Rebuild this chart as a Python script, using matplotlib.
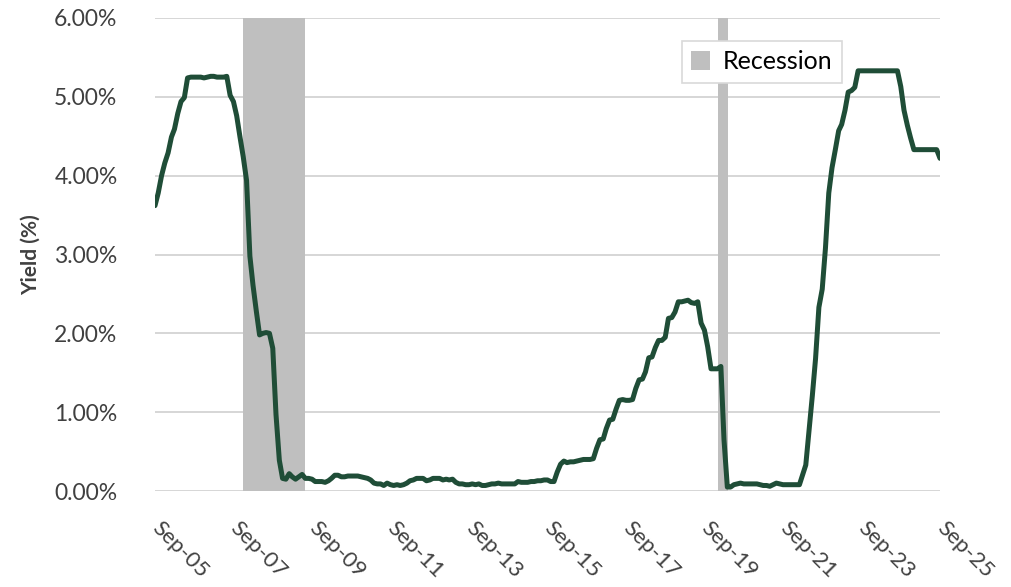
import matplotlib.pyplot as plt
import matplotlib.dates as mdates
import matplotlib.transforms as mtransforms
from matplotlib.patches import Patch
from matplotlib.ticker import FuncFormatter
import pandas as pd

# monthly yield (%), Sep 2005 .. Sep 2025
yield_2005 = [3.62, 3.78, 4.00, 4.16]
yield_2006 = [4.29, 4.49, 4.59, 4.79, 4.94, 4.99, 5.24, 5.25, 5.25, 5.25, 5.25, 5.24]
yield_2007 = [5.25, 5.26, 5.26, 5.25, 5.25, 5.25, 5.26, 5.02, 4.94, 4.76, 4.49, 4.24]
yield_2008 = [3.94, 2.98, 2.61, 2.28, 1.98, 2.00, 2.01, 2.00, 1.81, 0.97, 0.39, 0.16]
yield_2009 = [0.15, 0.22, 0.18, 0.15, 0.18, 0.21, 0.16, 0.16, 0.15, 0.12, 0.12, 0.12]
yield_2010 = [0.11, 0.13, 0.16, 0.20, 0.20, 0.18, 0.18, 0.19, 0.19, 0.19, 0.19, 0.18]
yield_2011 = [0.17, 0.16, 0.14, 0.10, 0.09, 0.09, 0.07, 0.10, 0.08, 0.07, 0.08, 0.07]
yield_2012 = [0.08, 0.10, 0.13, 0.14, 0.16, 0.16, 0.16, 0.13, 0.14, 0.16, 0.16, 0.16]
yield_2013 = [0.14, 0.15, 0.14, 0.15, 0.11, 0.09, 0.09, 0.08, 0.08, 0.09, 0.08, 0.09]
yield_2014 = [0.07, 0.07, 0.08, 0.09, 0.09, 0.10, 0.09, 0.09, 0.09, 0.09, 0.09, 0.12]
yield_2015 = [0.11, 0.11, 0.11, 0.12, 0.12, 0.13, 0.13, 0.14, 0.14, 0.12, 0.12, 0.24]
yield_2016 = [0.34, 0.38, 0.36, 0.37, 0.37, 0.38, 0.39, 0.40, 0.40, 0.40, 0.41, 0.54]
yield_2017 = [0.65, 0.66, 0.79, 0.90, 0.91, 1.04, 1.15, 1.16, 1.15, 1.15, 1.16, 1.30]
yield_2018 = [1.41, 1.42, 1.51, 1.69, 1.70, 1.82, 1.91, 1.91, 1.95, 2.19, 2.20, 2.27]
yield_2019 = [2.40, 2.40, 2.41, 2.42, 2.39, 2.38, 2.40, 2.13, 2.04, 1.83, 1.55, 1.55]
yield_2020 = [1.55, 1.58, 0.65, 0.05, 0.05, 0.08, 0.09, 0.10, 0.09, 0.09, 0.09, 0.09]
yield_2021 = [0.09, 0.08, 0.07, 0.07, 0.06, 0.08, 0.10, 0.09, 0.08, 0.08, 0.08, 0.08]
yield_2022 = [0.08, 0.08, 0.20, 0.33, 0.77, 1.21, 1.68, 2.33, 2.56, 3.08, 3.78, 4.10]
yield_2023 = [4.33, 4.57, 4.65, 4.83, 5.06, 5.08, 5.12, 5.33, 5.33, 5.33, 5.33, 5.33]
yield_2024 = [5.33, 5.33, 5.33, 5.33, 5.33, 5.33, 5.33, 5.33, 5.13, 4.83, 4.64, 4.48]
yield_2025 = [4.33, 4.33, 4.33, 4.33, 4.33, 4.33, 4.33, 4.33, 4.22]

yields = (yield_2005 + yield_2006 + yield_2007 + yield_2008 + yield_2009 + yield_2010
          + yield_2011 + yield_2012 + yield_2013 + yield_2014 + yield_2015 + yield_2016
          + yield_2017 + yield_2018 + yield_2019 + yield_2020 + yield_2021 + yield_2022
          + yield_2023 + yield_2024 + yield_2025)
dates = pd.date_range("2005-09-01", periods=len(yields), freq="MS")

recession_start = ["2007-12-01", "2020-01-01"]
recession_end = ["2009-06-28", "2020-04-06"]

tick_dates = pd.date_range("2005-09-01", "2025-09-01", freq="24MS")

plt.rcParams['font.family'] = ['Lato', 'DejaVu Sans']

fig = plt.figure(figsize=(10.12, 5.87), dpi=100)
ax = fig.add_axes([155/1012, 1 - 491/587, 785/1012, 473/587])

for s, e in zip(recession_start, recession_end):
    ax.axvspan(pd.Timestamp(s), pd.Timestamp(e), color='#bfbfbf', lw=0, zorder=1)

ax.plot(dates, yields, color='#1f4d37', linewidth=3.6, solid_joinstyle='round',
        solid_capstyle='round', zorder=3)

ax.set_ylim(0, 6)
ax.set_yticks(range(0, 7))
ax.yaxis.set_major_formatter(FuncFormatter(lambda v, p: f"{v:.2f}%"))
ax.set_xlim(pd.Timestamp("2005-09-01"), pd.Timestamp("2025-09-01"))
ax.set_xticks(tick_dates)
ax.xaxis.set_major_formatter(mdates.DateFormatter('%b-%y'))

ax.grid(axis='y', color='#d0d0d0', linewidth=1.2, zorder=0)
ax.set_axisbelow(True)
for sp in ax.spines.values():
    sp.set_visible(False)
ax.tick_params(axis='both', length=0, labelcolor='#404040')
ax.tick_params(axis='y', pad=27, labelsize=16.5)
ax.tick_params(axis='x', pad=19, labelsize=16)
shift = mtransforms.ScaledTranslation(5/72, 0, fig.dpi_scale_trans)
for lbl in ax.get_xticklabels():
    lbl.set_rotation(-45)
    lbl.set_ha('left')
    lbl.set_va('top')
    lbl.set_rotation_mode('anchor')
    lbl.set_transform(lbl.get_transform() + shift)

ax.set_ylabel('Yield (%)', fontsize=15, fontweight='bold', color='#404040')
ax.yaxis.set_label_coords(-0.146, 0.5)

handles = [Patch(facecolor='#bfbfbf', edgecolor='none', label='Recession')]
leg = ax.legend(handles=handles, loc='upper left', bbox_to_anchor=(0.671, 0.952),
                fontsize=18, frameon=True, fancybox=False, handlelength=0.75,
                handleheight=0.75, handletextpad=0.5, borderpad=0.38, borderaxespad=0,
                labelcolor='#000000')
leg.get_frame().set_edgecolor('#d9d9d9')
leg.get_frame().set_linewidth(1.2)
leg.get_frame().set_alpha(1)

fig.savefig('out.png', dpi=100)
